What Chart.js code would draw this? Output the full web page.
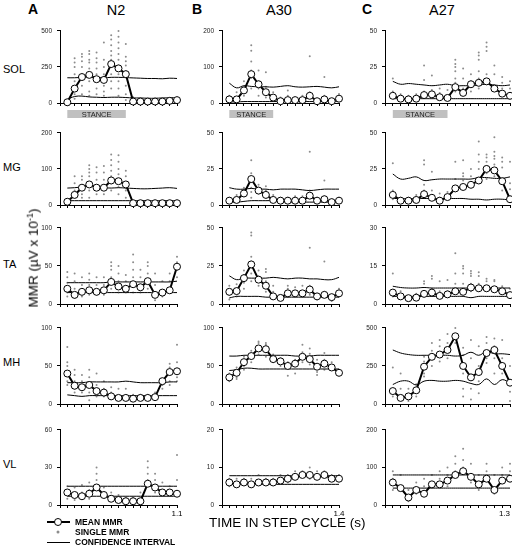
<!DOCTYPE html>
<html><head><meta charset="utf-8">
<script src="https://cdn.jsdelivr.net/npm/chart.js@4"></script>
<style>
html,body{margin:0;padding:0;background:#fff;width:512px;height:548px;overflow:hidden;position:relative;font-family:"Liberation Sans",Arial,sans-serif;}
canvas{position:absolute;}
.t{position:absolute;white-space:nowrap;color:#000;line-height:1;font-weight:normal;}
</style></head><body>
<script>
// ---------- DATA ----------
const bins = [0,1,2,3,4,5,6,7,8,9,10,11,12,13,14,15];
const animals = ['N2','A30','A27'];
const muscles = ['SOL','MG','TA','MH','VL'];
const cycleEndLabels = ['1.1','1.4','1.3'];
const stanceEndBin = [8,6,7];
// y-axis maxima [row][col]
const yMaxima = [[500,200,50],[200,50,50],[100,50,30],[100,100,500],[60,20,200]];

// SOL
const solN2Mean = [5,100,180,195,165,160,270,240,200,10,10,10,10,10,15,20];
const solN2Upper = [175,175,178,180,178,175,178,178,176,174,172,170,170,168,172,170];
const solN2Lower = [25,45,48,42,40,38,40,40,38,35,35,33,33,35,36,38];
const solN2Dots = [[20],[310,280,250,200,150,100,60,30],[340,320,290,250,200,170,120,60],[360,340,300,280,240,200,150,80,50],[350,310,280,240,200,150,100,60],[420,300,250,200,160,120,80,50],[470,440,400,360,330,300,250,200,150,100],[500,460,420,380,340,300,260,200,150,100,50],[410,320,290,260,220,180,120,60,20],[40,20],[30],[20],[30],[20],[30],[30,20]];
const solA30Mean = [10,10,35,80,52,30,15,5,8,8,8,20,5,10,5,12];
const solA30Upper = [55,42,48,46,45,45,44,46,48,45,44,45,46,44,42,45];
const solA30Lower = [3,3,4,4,4,4,4,4,4,4,4,4,4,4,4,4];
const solA30Dots = [[20,5],[30,10],[60,40,20],[160,145,115,90,70,40],[90,60,40,20],[85,45,30,15],[30,20],[15,10],[20,35],[15],[20],[130,30,15],[10],[72,20],[10],[25,10]];
const solA27Mean = [5,3,2.5,3,5.5,6,4,3.5,11,7,13,14,15,10,6.5,5];
const solA27Upper = [15,13,13.5,13,12.5,12,12.5,13,12,12,12,12.5,13,12.5,12,12.5];
const solA27Lower = [3,3,3,3,3,3,3,3,3,3,3,3,3,3,3,3];
const solA27Dots = [[17,8,4],[6,3],[5],[6],[26,16,8],[19,9],[10,7],[9,5],[30,27,25,22,17,14,8],[24,17,10],[20,15,8],[35,33,30,22,17,10],[42,39,36,20,15],[26,20,12],[18,14,10],[15,10,6]];
// MG
const mgN2Mean = [9,28,48,57,48,48,68,66,57,5,5,5,5,5,5,5];
const mgN2Upper = [47,48,50,52,50,48,47,48,47,46,45,45,46,47,48,46];
const mgN2Lower = [12,12,12,12,12,12,12,12,12,12,12,12,12,12,12,12];
const mgN2Dots = [[15],[80,60,40,20],[80,70,50,30,20],[110,100,90,80,60,40,20],[105,90,70,50,30],[108,90,70,50,30],[140,125,110,95,80,60,40],[138,120,100,85,70,50,30],[95,80,60,40,20],[8],[8],[8],[8],[8],[8],[8]];
const mgA30Mean = [3,3.5,8,18,10,7,3.5,3,3,3,3,6.5,3,4,2,3];
const mgA30Upper = [12,11,11,11.5,11,11,10.5,11,11,11,10.5,10,10.5,11,11,11];
const mgA30Lower = [2,2,2.5,3,3,3,3,2.5,2,2,2,2,2,2,2,2];
const mgA30Dots = [[5],[7,5],[12,10,6],[31,22,16,12,9,5],[14,12,8],[13,10,5],[7,5],[5],[5],[6],[6],[37,10,5],[5],[17,6],[4],[5]];
const mgA27Mean = [7,3,3,3.5,7.5,5,3,5.5,11.5,12.5,14,17,25,24,16.5,4];
const mgA27Upper = [21.5,18,18.5,19.5,17,17.5,18,18,18,18,18,19,19,18.5,18.5,19.5];
const mgA27Lower = [4.5,4.5,4.5,4.5,4.5,4.5,4.5,4.5,4.5,4.5,4,4,3.5,4,4,3.5];
const mgA27Dots = [[29,10,4],[5],[5],[7],[31,28,14,10],[23,10],[8,5],[9],[30,18,12],[31,22,20,17],[25,20,15],[44,35,30,25,18],[35,33,30,27,22,18],[47,37,34,32,28,20],[33,30,26,18,10],[30,15,11,5]];
// TA
const taN2Mean = [20,12,16,18,16,18,29,23,20,26,22,30,12,15,18,49];
const taN2Upper = [28,28,28,28,28,28,29,29,29,29,29,29,29,29,29,30];
const taN2Lower = [15,15,15,15,15,15,15,15,15,15,15,15,15,15,15,15];
const taN2Dots = [[42,35,28,15,10],[40,30,20,8],[35,25,10],[40,32,25,12],[35,25,12],[35,25,12],[55,50,45,35,20],[50,40,30,15],[38,30,15],[65,55,45,35,15],[45,35,15],[55,50,40,20],[40,25,5],[30,10],[40,30,15],[62,55,45,35]];
const taA30Mean = [8,8.5,17,26,16,12,5,4,7,7,7,9.5,5,6,4.5,7];
const taA30Upper = [18.5,16,17,17,17,17,17.5,17,16.5,17,17,16.5,16.5,16,16,17.5];
const taA30Lower = [4,5,5,5,5,4.5,4.5,4.5,4.5,4.5,4.5,4.5,4.5,4.5,4.5,4.5];
const taA30Dots = [[12,6,3],[13,10,5],[22,19,14,10],[47,45,31,28,24,20,15],[22,18,12],[23,21,15,8],[12,8,4],[5,3],[12,10,5],[11,6],[12,5],[37,12,6],[6,3],[28,8],[6,2],[10,5]];
const taA27Mean = [4.5,3,2.3,2.5,4,4.5,3.2,3.8,5,4.8,6.5,6.2,6.2,5.8,5,3.5];
const taA27Upper = [7,6.5,6.3,6.3,6.5,6.3,6.3,6.3,6.3,6.3,6.3,6.3,6.3,6.3,6.3,6.3];
const taA27Lower = [3,3,3,3,3,3,3,3,3,3,2.5,3,3,3,3,3];
const taA27Dots = [[12,5,3],[5,2],[3],[4],[9,8,5],[11,10,6],[9,5],[9.5,5],[20,12,8],[15,14,12,8],[13,12,11,8,5],[12.5,11,8],[10,9,6],[9.5,9,6],[7,5],[6,3]];
// MH
const mhN2Mean = [40,24,22,25,17,15,10,8,8,7,8,8,9,30,42,43];
const mhN2Upper = [28,28,28,29,29,29,29,29,30,29,28,28,28,28,29,29];
const mhN2Lower = [12,11,10,11,11,11,11,11,11,11,11,11,11,11,11,11];
const mhN2Dots = [[75,55,50,40,30,25],[45,38,30,20,15],[38,30,20,15],[45,35,25,15,5],[40,25,15,10],[30,20,10],[22,15,8],[20,10,5],[20,10,5],[12,5],[12,5],[12,5],[15,8],[33,25,20],[53,48,40,30,25],[78,55,45,35,30]];
const mhA30Mean = [35,41,55,63,73,72,59,56,50,53,62,59,49,53,48,41];
const mhA30Upper = [63,63,64,64,64,64,64,64,64,63,63,63,64,64,64,64];
const mhA30Lower = [44,45,47,47,46,46,46,46,46,46,46,46,46,46,46,46];
const mhA30Dots = [[40,30],[48,35,33],[62,50,45],[70,60,55],[82,80,72,65],[80,78,68,62],[65,55],[60,50],[55,37],[58,40],[78,68,55],[73,66,52],[58,42,38],[67,58,45],[55,45],[45,38]];
const mhA27Mean = [85,40,50,90,245,310,325,355,445,250,175,210,335,355,250,140];
const mhA27Upper = [355,335,325,320,320,320,320,320,315,320,340,320,345,330,330,325];
const mhA27Lower = [128,150,150,125,150,155,150,150,155,150,135,128,165,128,160,138];
const mhA27Dots = [[240,100,50],[200,100,30],[100,20],[130,100,50],[310,280,200,180],[400,350,300,250],[420,380,330,280],[460,400,350,300],[500,460,400],[370,320,200,100,50],[420,300,100,30],[380,250,150,70],[440,400,300,270],[430,380,300,200],[420,300,270,200],[250,80,20]];
// VL
const vlN2Mean = [10,8,7,9,14,8,5,4,3,3,3,17,14,10,10,9];
const vlN2Upper = [15,15,15,15,15,15,15,15,15,15,15,15,15,15,15,15];
const vlN2Lower = [7,7,7,7,7,7,7,7,7,7,7,7,7,7,7,7];
const vlN2Dots = [[15,12,5],[14,8,4],[16,10],[18,12,5],[30,25,20,15],[14,8],[10,5],[8,3],[6,2],[6,2],[10,2],[35,30,25,20],[25,20,10],[18,12],[15,10],[40,20,10]];
const vlA30Mean = [6,5.5,6,5.5,6,6,6,6.5,7,7.5,8,8,7.5,8,7,7];
const vlA30Upper = [7.8,7.8,7.8,7.8,7.8,7.8,7.8,7.8,7.8,7.8,7.8,7.8,7.8,7.8,7.8,7.8];
const vlA30Lower = [5.5,5.5,5.5,5.5,5.5,5.5,5.5,5.5,5.5,5.5,5.5,5.5,5.5,5.5,5.5,5.5];
const vlA30Dots = [[7,5],[7,5],[7],[7,5],[8],[7],[7],[8],[8,6],[9,7],[9,8],[10,7],[9],[9,8],[8],[8]];
const vlA27Mean = [60,45,20,40,30,55,55,65,80,90,75,55,70,40,65,70];
const vlA27Upper = [80,80,80,80,80,80,80,80,80,80,80,80,80,80,80,80];
const vlA27Lower = [45,45,45,45,45,45,45,45,45,45,45,45,45,45,45,45];
const vlA27Dots = [[90,70,40],[80,50],[40,10],[60,30],[70,50],[80,60],[90,70],[100,80,50],[130,110,90],[150,120,100],[110,80,60],[80,40],[110,90],[80,30],[100,80],[110,90]];

const panelData = [
  [[solN2Mean,solN2Upper,solN2Lower,solN2Dots],[solA30Mean,solA30Upper,solA30Lower,solA30Dots],[solA27Mean,solA27Upper,solA27Lower,solA27Dots]],
  [[mgN2Mean,mgN2Upper,mgN2Lower,mgN2Dots],[mgA30Mean,mgA30Upper,mgA30Lower,mgA30Dots],[mgA27Mean,mgA27Upper,mgA27Lower,mgA27Dots]],
  [[taN2Mean,taN2Upper,taN2Lower,taN2Dots],[taA30Mean,taA30Upper,taA30Lower,taA30Dots],[taA27Mean,taA27Upper,taA27Lower,taA27Dots]],
  [[mhN2Mean,mhN2Upper,mhN2Lower,mhN2Dots],[mhA30Mean,mhA30Upper,mhA30Lower,mhA30Dots],[mhA27Mean,mhA27Upper,mhA27Lower,mhA27Dots]],
  [[vlN2Mean,vlN2Upper,vlN2Lower,vlN2Dots],[vlA30Mean,vlA30Upper,vlA30Lower,vlA30Dots],[vlA27Mean,vlA27Upper,vlA27Lower,vlA27Dots]]
];

// ---------- LAYOUT ----------
const colLeft = [60,222,385], colRight = [177,339,510];
const rowTop = [28,130,225,325,427], rowBottom = [103,205,304,404,505];
const YW = 32, PT = 6, PR = 12, XH = 18;
const FONT = '"Liberation Sans", Arial, sans-serif';
const xLabelAlign = ['center','center','end'];

function addText(txt, x, y, size, opts={}) {
  const d = document.createElement('div');
  d.className = 't';
  d.innerHTML = txt;
  d.style.left = x + 'px'; d.style.top = y + 'px';
  d.style.fontSize = size + 'px';
  if (opts.bold) d.style.fontWeight = 'bold';
  if (opts.style) Object.assign(d.style, opts.style);
  document.body.appendChild(d);
  return d;
}

const stancePlugin = {
  id: 'stance',
  afterDraw(chart, args, o) {
    if (!o || o.endBin == null) return;
    const ctx = chart.ctx, xs = chart.scales.x, b = chart.chartArea.bottom;
    const x0 = xs.getPixelForValue(0), x1 = xs.getPixelForValue(o.endBin);
    ctx.save();
    ctx.fillStyle = '#c0c0c0';
    ctx.fillRect(x0, b + 7, x1 - x0, 8);
    ctx.fillStyle = '#222';
    ctx.font = '7.5px ' + FONT;
    ctx.textAlign = 'center'; ctx.textBaseline = 'middle';
    ctx.fillText('STANCE', (x0 + x1) / 2, b + 11.5);
    ctx.restore();
  }
};

for (let r = 0; r < 5; r++) {
  for (let c = 0; c < 3; c++) {
    const [mean, up, lo, dots] = panelData[r][c];
    const cv = document.createElement('canvas');
    const w = colRight[c] - colLeft[c] + YW + PR;
    const h = rowBottom[r] - rowTop[r] + PT + XH;
    cv.width = w; cv.height = h;
    cv.style.left = (colLeft[c] - YW) + 'px';
    cv.style.top = (rowTop[r] - PT) + 'px';
    cv.style.width = w + 'px'; cv.style.height = h + 'px';
    document.body.appendChild(cv);
    const M = yMaxima[r][c];
    const isBottom = r === 4;
    const dotPts = [];
    dots.forEach((arr, i) => arr.forEach(v => dotPts.push({x: bins[i], y: v})));
    new Chart(cv, {
      data: {
        datasets: [
          {type:'line', data: mean.map((v,i)=>({x:bins[i],y:v})), borderColor:'#000', borderWidth:2,
           pointRadius:3.5, pointBackgroundColor:'#fff', pointBorderColor:'#000', pointBorderWidth:1, tension:0, clip:false, order:0},
          {type:'line', data: up.map((v,i)=>({x:bins[i],y:v})), borderColor:'#000', borderWidth:1, pointRadius:0, tension:0.4, clip:false, order:1},
          {type:'line', data: lo.map((v,i)=>({x:bins[i],y:v})), borderColor:'#000', borderWidth:1, pointRadius:0, tension:0.4, clip:false, order:1},
          {type:'scatter', data: dotPts, pointRadius:1, backgroundColor:'#8c8c8c', borderWidth:0, clip:false, order:2}
        ]
      },
      options: {
        responsive:false, animation:false, devicePixelRatio:1,
        layout:{padding:{top:PT,right:PR,left:0,bottom:0}},
        plugins:{legend:{display:false}, tooltip:{enabled:false}, stance: r===0 ? {endBin: stanceEndBin[c]} : {}},
        scales:{
          x:{type:'linear', min:-1, max:15, afterFit(s){s.height = XH;},
             ticks:{stepSize:1, autoSkip:false, maxRotation:0, padding:1, color:'#000', align:xLabelAlign[c], font:{size:8, family:FONT},
                    callback:(v)=> (isBottom && v===15) ? cycleEndLabels[c] : ''},
             grid:{drawOnChartArea:false, drawTicks:true, tickLength:3, color:'#000'},
             border:{color:'#000', width:1}},
          y:{min:0, max:M, afterFit(s){s.width = YW;},
             ticks:{stepSize:M/2, padding:5, color:'#222', font:{size:6.5, family:FONT}},
             grid:{drawOnChartArea:false, drawTicks:true, tickLength:3, color:'#000'},
             border:{color:'#000', width:1}}
        }
      },
      plugins:[stancePlugin]
    });
  }
}

// ---------- TEXT ----------
const letters = ['A','B','C'];
const letterX = [28,192,362];
const titleCX = [116,279,442];
letters.forEach((L,i)=>addText(L, letterX[i], 2, 14, {bold:true}));
animals.forEach((a,i)=>{ const d = addText(a, titleCX[i], 3, 14.5); d.style.transform='translateX(-50%)'; });
const rowLabelY = [64,162,259,357,459];
muscles.forEach((m,i)=>addText(m, 3, rowLabelY[i], 11));
addText('MMR (µV x 10<sup style="font-size:9px;vertical-align:5px">-1</sup>)', 33, 258, 13.5,
  {style:{transform:'translate(-50%,-50%) rotate(-90deg)'}});
addText('TIME IN STEP CYCLE (s)', 209, 516, 13.5);

// legend
const lg = document.createElement('canvas');
lg.width = 130; lg.height = 32;
lg.style.left = '44px'; lg.style.top = '516px';
document.body.appendChild(lg);
const g = lg.getContext('2d');
g.strokeStyle = '#000';
g.lineWidth = 2; g.beginPath(); g.moveTo(3,6); g.lineTo(26,6); g.stroke();
g.lineWidth = 1; g.fillStyle = '#fff'; g.beginPath(); g.arc(14,6,3.5,0,Math.PI*2); g.fill(); g.stroke();
g.fillStyle = '#8c8c8c'; g.beginPath(); g.arc(14,16,1.5,0,Math.PI*2); g.fill();
g.lineWidth = 1; g.beginPath(); g.moveTo(3,26.5); g.lineTo(26,26.5); g.stroke();
addText('MEAN MMR', 75, 518, 8.5, {bold:true});
addText('SINGLE MMR', 75, 528, 8.5, {bold:true});
addText('CONFIDENCE INTERVAL', 75, 538, 8.5, {bold:true});
</script>
</body></html>
